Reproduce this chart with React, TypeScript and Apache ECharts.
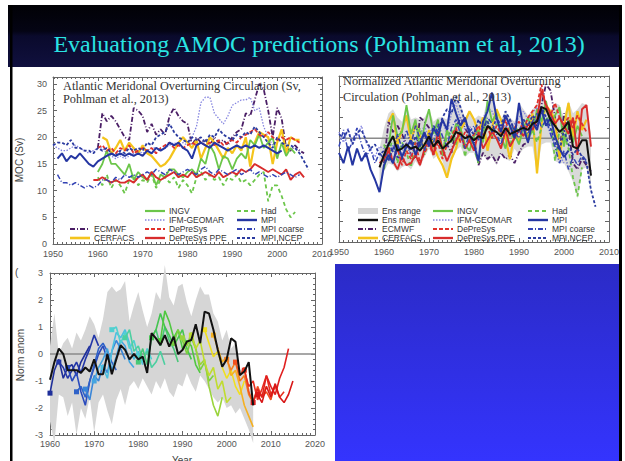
import React, { useEffect, useRef } from "react";
import * as echarts from "echarts";

// ---------- Panel (a): AMOC strength, Sv ----------
const ecmwfSv = [18, 24.5, 23, 24, 23, 21.5, 20, 19.5, 25.5, 25, 24, 21, 22.5, 20.5, 21.5, 20.5, 24, 25.5, 24, 23, 22.5, 18.5, 20, 19, 19.5, 18.5, 20, 19, 19.5, 18.5, 20, 21, 21.5, 24.5, 24, 27, 30, 29, 25, 20, 25.5, 23.5, 18, 17.5, 18.5, 17.5, 17];
const ifmSv = [18.5, 18, 17.5, 17.5, 18, 18.5, 18, 17.5, 17, 17.5, 18, 18, 17, 16.5, 16, 16.5, 16, 16.5, 17, 17.5, 17, 17.5, 18, 18, 17.5, 18, 18.5, 19, 18.5, 19, 18.5, 20, 22, 26.5, 27.5, 27.5, 24.5, 23.5, 22.5, 24, 26, 26.5, 27, 27, 27.5, 25, 25.5, 22, 20, 18.5, 19];
const cerfacsSv = [20, 19.5, 17, 18, 19.5, 17.5, 19, 18, 17, 18.5, 17, 16.5, 15.5, 14.5, 15, 16, 17.5, 19, 20, 19, 18, 19.5, 16, 18, 20, 19, 17.5, 16, 18, 17, 18.5, 17.5, 20, 14.5, 19, 21, 20.5, 20, 15, 19, 21.5, 17, 20, 19.5, 19.5];
const ingvSv = [13.5, 15, 17.5, 15, 15, 14, 13, 15, 12, 13.5, 12.5, 12, 13.5, 11, 13, 12.5, 14, 14, 13, 12.5, 13.5, 14, 13, 16, 15, 18.5, 17, 14, 16.5, 16, 14, 16, 17, 16, 19.5, 18.5, 20.5, 18, 19, 20, 16, 19, 16.5, 18, 17];
const hadSv = [12.5, 11, 13, 10.5, 12, 11, 9.5, 12, 13, 11, 12, 11.5, 13, 10.5, 12, 12.5, 11.5, 12.5, 10.5, 12, 11, 9.5, 12.5, 13.5, 12, 13, 12, 12.5, 11, 12.5, 12, 13, 11.5, 12, 11, 12, 13, 13.5, 8, 11, 11, 9, 6.5, 5, 6];
const depresysSv = [18, 18.5, 17.5, 18, 17, 18, 17.5, 18.5, 17, 17.5, 18, 17.5, 18, 17, 18, 18.5, 19, 18, 18.5, 18, 18.5, 19, 18.5, 19, 18.5, 19, 18.5, 19.5, 18.5, 19, 19.5, 19, 20, 20.5, 21, 21.5, 20.5, 20, 21, 20, 19.5, 20, 19.5, 20, 19.5, 19];
const ppeSv = [12, 12, 12.5, 12, 11.5, 12, 11.5, 11.5, 12, 11.5, 12.5, 13, 12, 13.5, 12.5, 12, 12.5, 13, 13.5, 12.5, 13, 12.5, 13.5, 12.5, 13, 13.5, 13, 12.5, 13.5, 12.5, 13, 13.5, 13, 14, 13.5, 14, 15, 14.5, 14, 13.5, 14, 13.5, 13, 14, 12, 13, 13.5, 12.5];
const mpiSv = [16, 17, 15.5, 16.5, 16, 17, 16, 15, 14.5, 15.5, 16, 16.5, 17, 16.5, 17, 16.5, 17, 16.5, 17, 16.5, 17.5, 17, 18, 17.5, 18, 19, 18.5, 19, 18, 17.5, 16, 18.5, 19, 18.5, 18, 19, 18.5, 18, 17.5, 18, 18.5, 18, 18.5, 18, 18.5, 18, 18.5, 18, 17.5, 17, 17.5];
const mpiCoarseSv = [13, 11.5, 11.5, 11, 11.5, 11, 10.5, 11, 10.5, 11, 12, 12, 11.5, 12.5, 12, 13, 12.5, 13, 12.5, 13, 13.5, 13, 14, 13.5, 13, 14, 13.5, 13, 13.5, 14, 13.5, 13, 14, 14.5, 13.5, 13, 14, 13.5, 13, 13.5, 14, 13, 13.5, 14, 13, 13.5, 13, 12.5, 13, 12.5, 13, 13.5, 13, 12.5, 13];
const ncepSv = [18.5, 19, 19, 18.5, 19.5, 18, 18, 17.5, 17.5, 17, 18, 17.5, 18, 17, 16.5, 17.5, 17, 18, 17.5, 18, 17.5, 19, 18.5, 20, 20.5, 21, 22.5, 21, 20, 19.5, 19, 20, 19.5, 20, 19, 20.5, 20, 21.5, 20.5, 20, 19.5, 20.5, 20, 21, 20.5, 22, 21, 20, 19, 18, 20, 19, 18.5, 18.5, 18, 17, 15.5, 14];

// ---------- Panel (b): normalized AMOC ----------
const ecmwfNorm = [-1.2, 0.8, 0.3, 0.6, 0.2, -0.3, -0.8, -1.0, 1.0, 0.8, 0.5, -0.5, 0.0, -0.7, -0.3, -0.7, 0.5, 1.0, 0.5, 0.1, 0.0, -1.3, -0.7, -1.0, -0.8, -1.2, -0.7, -1.0, -0.8, -1.2, -0.7, -0.3, -0.2, 0.8, 0.6, 1.6, 2.6, 2.3, 1.0, -0.7, 1.2, 0.5, -1.2, -1.5, -1.0, -1.3, -1.6];
const ifmNorm = [0.3, -0.2, 0.5, -0.3, 0.1, 0.6, -0.2, -0.6, -0.9, -0.4, -0.5, -0.8, -0.3, -1.0, -0.7, -0.2, -0.8, -0.4, 0.2, 0.6, 0.0, -0.5, 0.4, 0.8, 0.2, 1.2, 1.7, 0.9, 0.4, 0.6, 0.1, 0.5, 0.9, 1.5, 1.3, 0.8, 0.3, 0.6, 0.2, 0.7, 1.0, 1.3, 0.9, 1.2, 1.5, 0.8, 1.1, 0.2, -0.3, -0.8, -1.2];
const cerfacsNorm = [0.8, 1.2, -0.3, 0.4, 1.1, -0.2, 0.7, 0.1, -0.6, 0.4, -0.4, -0.9, -1.3, -1.9, -1.0, -0.5, 0.4, 0.8, 1.3, 0.9, 0.3, 1.0, -0.6, 0.5, 1.4, 0.9, 0.0, -1.0, 0.3, -0.2, 0.6, 0.0, 1.2, -1.7, 0.7, 1.6, 1.3, 0.9, -1.0, 0.6, 1.7, 0.0, 1.3, 0.4, 0.9];
const ingvNorm = [-1.5, -0.4, 1.1, 0.1, 0.3, 1.6, 0.2, 0.9, -0.5, 0.6, 1.4, 0.2, 0.9, -0.7, 0.4, -0.2, 0.7, 0.5, -0.3, -0.6, 0.1, 0.4, -0.2, 1.8, 0.8, 1.2, 0.1, -0.5, 0.6, 0.2, -0.3, 0.5, 1.0, 0.3, 1.4, 0.8, 1.8, 0.7, 1.1, 1.5, -0.4, 0.9, -0.2, 0.6, 0.1];
const hadNorm = [-0.3, -1.0, 0.2, -1.2, -0.2, -0.7, -1.4, -0.1, 0.5, -0.8, 0.0, -0.4, 0.6, -0.9, 0.1, 0.4, -0.3, 0.5, -0.9, 0.2, -0.5, -1.2, 0.4, 0.9, 0.1, 0.7, 0.2, 0.5, -0.4, 0.6, 0.3, 0.8, -0.1, 0.4, -0.2, 0.5, 0.9, 1.1, -1.1, 0.4, 0.2, -0.5, -1.9, -2.8, -1.4];
const depresysNorm = [-0.9, -0.4, -1.1, -0.5, -1.3, -0.6, -1.0, -0.2, -1.2, -0.7, -0.3, -0.8, -0.2, -1.0, -0.3, 0.1, 0.5, -0.2, 0.3, -0.1, 0.2, 0.6, 0.1, 0.5, 0.0, 0.6, 0.2, 0.9, 0.1, 0.5, 0.8, 0.4, 1.0, 1.3, 1.6, 2.6, 1.5, 1.1, 1.7, 1.0, 0.6, 1.0, 0.5, 1.1, 0.7, 0.3];
const ppeNorm = [-1.2, -1.0, -0.6, -1.1, -1.5, -0.9, -1.3, -1.2, -0.8, -1.3, -0.5, -0.1, -0.8, 0.3, -0.5, -1.1, -0.6, -0.1, 0.3, -0.5, -0.1, -0.6, 0.3, -0.5, -0.1, 0.3, 0.0, -0.5, 0.4, -0.4, 0.0, 0.4, 0.1, 0.7, 0.4, 0.9, 2.3, 1.6, 1.2, 0.7, 1.0, 0.6, 0.2, 1.0, -0.8, 1.4, 1.6, -0.4];
const mpiNorm = [-0.7, -1.2, -0.4, -1.3, -0.5, -1.1, -0.7, -1.5, -2.0, -2.6, -1.3, -0.8, -1.2, -0.3, -0.9, -0.4, -0.1, -0.8, -0.2, 0.3, -0.4, 0.5, 0.1, 0.9, 0.4, 1.9, 1.2, 0.6, 1.0, 0.2, -0.3, -1.1, 0.8, 1.3, 2.2, 1.0, 0.3, 1.1, 0.6, 0.0, 1.7, 0.5, -0.2, 0.8, 0.4, 1.4, 0.6, 1.0, 0.1, -0.5, -0.9, -0.6];
const mpiCoarseNorm = [-0.4, 0.4, -0.6, -0.2, 0.5, -0.3, -0.9, -0.5, -1.2, -0.7, -1.0, -0.2, -0.7, 0.2, -0.5, 0.4, -0.3, 0.6, 0.0, -0.6, 0.3, -0.2, 0.7, 0.1, -0.4, 0.5, 0.9, 0.2, -0.5, 0.3, 0.6, -0.1, 0.4, 1.0, 0.7, 0.2, -0.3, 0.5, 0.9, 0.3, 0.0, 0.6, 0.2, 0.8, 1.2, 0.5, 0.9, 0.2, -0.4, -1.2, -0.6, -1.5, -0.9, -1.3, -0.8, -1.1];
const ncepNorm = [0.2, 0.0, 0.4, -0.3, 0.3, 0.4, -0.1, -0.5, -0.3, -0.8, -0.6, -1.1, -0.4, -0.9, -1.0, -0.3, -0.6, 0.1, -0.4, 0.2, -0.2, 0.6, 0.3, 1.0, 1.4, 1.2, 2.0, 1.5, 0.8, 0.4, 0.2, 0.9, 0.5, 0.8, 0.3, 1.0, 0.6, 1.3, 0.9, 0.4, 0.3, 0.9, 0.6, 1.1, 0.8, 1.5, 1.0, 0.5, -0.2, -0.6, 0.4, -0.3, -0.8, -0.5, -0.9, -1.2, -2.5, -3.3];
const ensMeanNorm = [-1.4, -0.8, -0.3, 0.1, -0.6, -0.5, -0.3, -0.5, -0.4, -0.6, -0.3, 0.1, -0.4, -0.1, -0.5, -0.3, -0.1, 0.3, 0.2, 0.0, 0.1, -0.1, 0.1, 0.0, 0.6, 0.4, 0.3, 0.1, 0.5, 0.2, 0.3, 0.4, 0.5, 0.4, 0.7, 0.8, 1.5, 1.4, 0.9, 0.6, 0.3, 0.5, 0.8, -0.4, -0.5, -0.1, -0.1, -1.8];
const ensHighNorm = [-0.5, 0.5, 1.2, 1.4, 1.0, 0.8, 1.6, 0.9, 1.0, 0.9, 1.0, 1.4, 0.8, 1.0, 1.0, 0.9, 1.3, 2.0, 1.6, 1.0, 1.3, 0.9, 1.1, 1.0, 1.9, 2.2, 1.3, 0.9, 1.3, 1.0, 0.8, 1.7, 1.4, 1.1, 1.4, 1.6, 2.6, 1.7, 1.3, 1.7, 1.6, 1.0, 1.8, 1.2, 1.4, 1.7, 1.6, 0.2];
const ensLowNorm = [-2.6, -1.6, -1.2, -1.3, -1.6, -1.4, -1.3, -1.5, -1.1, -1.4, -0.9, -0.5, -1.0, -0.8, -1.1, -1.9, -1.1, -0.6, -0.4, -0.9, -0.7, -0.7, -1.3, -0.8, -1.1, -0.9, -1.3, -0.7, -1.0, -1.1, -0.5, -0.8, -0.5, -0.4, -0.4, -1.7, -0.3, -0.2, -0.2, -1.1, -1.2, -1.2, -1.6, -2.1, -2.9, -1.5, -1.4, -2.6];

// ---------- Panel (c): hindcasts, normalized anomaly ----------
const obsAnom = [-0.95, -0.3, 0.2, 0.0, -0.6, -0.6, -0.6, -0.7, -0.5, -0.65, -0.2, -0.75, -0.75, 0.0, -0.75, -0.2, 0.33, 0.15, -0.2, 0.0, -0.2, -0.1, -0.7, 0.77, 0.58, 0.33, 0.7, 0.27, 0.64, 0.0, 0.15, 0.46, 0.52, 1.1, 0.4, 1.57, 1.5, 0.9, 0.15, -0.47, -0.2, 0.58, 0.45, -0.78, -0.65, -0.3, -1.9];
const rangeHigh = [0.3, 1.5, 0.0, 0.4, 0.6, 0.2, 0.8, 0.5, 0.9, 1.4, 1.1, 0.6, 1.3, 2.3, 2.5, 2.3, 2.4, 2.7, 1.2, 1.8, 2.3, 1.6, 1.0, 1.5, 2.3, 2.0, 3.3, 2.1, 1.8, 2.5, 2.6, 1.9, 1.4, 2.0, 2.5, 2.2, 2.2, 1.5, 1.2, 0.5, 0.9, 0.2, 0.4, -0.6, -0.5, -1.2, -1.6];
const rangeLow = [-2.5, -3.3, -1.5, -1.6, -2.3, -1.8, -3.0, -2.0, -2.4, -1.6, -2.9, -1.8, -1.5, -2.1, -2.6, -1.7, -1.3, -1.9, -1.2, -1.0, -1.3, -0.9, -1.2, -1.5, -1.0, -1.3, -0.9, -1.4, -1.6, -1.1, -1.2, -0.7, -1.1, -1.4, -0.8, -1.0, -1.3, -1.6, -1.8, -1.6, -2.0, -1.9, -2.2, -2.0, -2.4, -2.8, -3.3];
const hindcastStarts = [1960, 1962, 1964, 1966, 1968, 1970, 1972, 1974, 1977, 1980, 1983, 1985, 1988, 1990, 1992, 1995, 1997, 2000, 2002, 2004, 2006, 2007];
const hindcastValues = [
  [-1.45, -0.6, -0.2, -0.9, -0.5, -0.4, -0.8, -0.3, 0.0, 0.3],
  [-0.3, -0.5, -0.9, -0.6, -0.3, -0.7, -0.2, 0.2, 0.7, 0.3],
  [-0.5, -1.0, -0.7, -1.4, -1.9, -1.0, -0.5, 0.0, 0.3, -0.2],
  [-1.4, -1.2, -1.6, -1.0, -0.4, 0.2, 0.4, 0.1, -0.3, -0.6],
  [-1.3, -1.7, -0.8, -1.0, -0.4, -0.7, 0.1, 0.5, 0.2, -0.2],
  [-1.0, -0.5, -0.2, 0.2, -0.6, -0.1, 0.5, 0.3, -0.3, -0.5],
  [-0.5, -0.9, 0.1, 0.8, 0.6, 0.9, 0.4, -0.2, 0.1, -0.4],
  [0.9, 1.0, 0.4, 0.8, 0.2, 0.5, -0.1, -0.3, 0.2, -0.2],
  [0.6, 0.9, 0.1, 0.3, -0.2, 0.1, -0.5, -0.3, 0.1, -0.4],
  [-0.3, 0.2, -0.4, 0.6, 0.9, 0.3, 1.0, 0.5, 0.2, -0.3],
  [0.6, 0.9, 1.5, 1.0, 0.7, 0.3, 0.6, 0.9, 0.2, -0.2],
  [0.5, 1.6, 1.2, 0.6, 0.9, 0.2, 0.5, 0.3, -0.4, -0.7],
  [0.4, 0.9, 0.5, 0.0, 0.6, 0.2, -0.6, -0.3, -1.0, -0.8],
  [0.6, 0.3, 0.8, 0.2, -0.4, -0.2, -1.2, -1.9, -2.3, -1.6],
  [0.7, 0.2, 0.5, -0.3, -0.8, -0.5, -1.3, -1.0, -1.8, -1.6],
  [0.9, 0.4, -0.1, 0.1, -0.5, -0.9, -0.6, -1.2, -1.5, -1.0],
  [0.7, 0.2, -0.3, -0.1, -0.8, -0.6, -1.2, -1.9, -2.3, -2.7],
  [-0.2, -0.6, -0.3, -1.0, -0.8, -1.5, -1.8, -1.3, -1.6, -1.2],
  [-0.3, -0.8, -0.5, -1.4, -1.8, -1.2, -1.6, -1.4, -1.7, -1.1],
  [-0.6, -1.2, -1.0, -1.7, -1.3, -0.8, -1.5, -1.2, -1.6, -1.4],
  [-1.8, -1.3, -1.6, -0.8, -1.2, -1.5, -0.9, -0.5, 0.2],
  [-1.5, -1.8, -1.2, -1.6, -1.1, -1.6, -1.8, -1.5, -1.0],
];
const hindcastColors = ["#1f2f9a", "#2236a8", "#2a4bbd", "#2f62c8", "#3a86d8", "#45a5e0", "#4cc0e0", "#50d0d0", "#4ccfa0", "#48c878", "#44c450", "#50c840", "#7cd040", "#9ad43c", "#c0dc30", "#f0e020", "#f5b020", "#f58020", "#f05020", "#e83020", "#e02020", "#d81818"];

const xRangeA = [1950, 2010];
const xRangeC = [1960, 2020];

// model name, first year (Sv), values (Sv), first year (normalized), values (normalized)
const models: [string, number, number[], number, number[]][] = [
  ["ECMWF", 1960, ecmwfSv, 1960, ecmwfNorm],
  ["IFM-GEOMAR", 1950, ifmSv, 1950, ifmNorm],
  ["CERFACS", 1961, cerfacsSv, 1961, cerfacsNorm],
  ["INGV", 1960, ingvSv, 1960, ingvNorm],
  ["Had", 1960, hadSv, 1960, hadNorm],
  ["DePreSys", 1960, depresysSv, 1960, depresysNorm],
  ["DePreSys PPE", 1959, ppeSv, 1959, ppeNorm],
  ["MPI coarse", 1951, mpiCoarseSv, 1950, mpiCoarseNorm],
  ["MPI NCEP", 1950, ncepSv, 1950, ncepNorm],
  ["MPI", 1951, mpiSv, 1950, mpiNorm],
];

const styles: Record<string, { color: string; width: number; dash: any }> = {
  ECMWF: { color: "#4b1f66", width: 1.8, dash: [5, 2, 1, 2] },
  "IFM-GEOMAR": { color: "#8585e0", width: 1.3, dash: [1.5, 1.5] },
  CERFACS: { color: "#f4c41c", width: 2.2, dash: "solid" },
  INGV: { color: "#6cc64a", width: 1.8, dash: "solid" },
  DePreSys: { color: "#e2322c", width: 1.8, dash: [4, 2] },
  "DePreSys PPE": { color: "#d82c2c", width: 1.9, dash: "solid" },
  Had: { color: "#6cc64a", width: 1.8, dash: [4, 3] },
  MPI: { color: "#2536a2", width: 2, dash: "solid" },
  "MPI coarse": { color: "#3343b4", width: 1.5, dash: [5, 2, 1, 2] },
  "MPI NCEP": { color: "#2b3ba0", width: 1.8, dash: [3, 2] },
  "Ens range": { color: "#d4d4d4", width: 6, dash: "solid" },
  "Ens mean": { color: "#111111", width: 2, dash: "solid" },
};

const legendCols = [
  ["Ens range", "Ens mean", "ECMWF", "CERFACS"],
  ["INGV", "IFM-GEOMAR", "DePreSys", "DePreSys PPE"],
  ["Had", "MPI", "MPI coarse", "MPI NCEP"],
];

const SANS = '"Liberation Sans", Arial, sans-serif';
const SERIF = '"Liberation Serif", "Times New Roman", serif';
const FRAME = "#666";

const toPairs = (start: number, vals: number[]) => vals.map((v, i) => [start + i, v]);

function axis(gridIndex: number, position: string, min: number, max: number, interval: number, minorSplit: number, label: any) {
  return {
    type: "value",
    gridIndex,
    position,
    min,
    max,
    interval,
    axisLine: { show: true, onZero: false, lineStyle: { color: FRAME, width: 1 } },
    axisTick: { show: true, inside: true, length: 4, lineStyle: { color: FRAME, width: 1 } },
    minorTick: { show: true, splitNumber: minorSplit, length: 2, lineStyle: { color: FRAME, width: 1 } },
    splitLine: { show: false },
    axisLabel: label
      ? { show: true, color: "#555", fontFamily: SANS, fontSize: 9, ...label }
      : { show: false },
  };
}

function line(name: string, start: number, vals: number[], axisIdx: number, z: number) {
  const st = styles[name];
  return {
    type: "line",
    name,
    xAxisIndex: axisIdx,
    yAxisIndex: axisIdx,
    data: toPairs(start, vals),
    showSymbol: false,
    symbol: "none",
    silent: true,
    z,
    lineStyle: { color: st.color, width: st.width, type: st.dash },
    itemStyle: { color: st.color },
  };
}

// filled envelope between a low and a high curve
function band(lo: number[], hi: number[], start: number, axisIdx: number, color: string) {
  return {
    type: "custom",
    coordinateSystem: "cartesian2d",
    xAxisIndex: axisIdx,
    yAxisIndex: axisIdx,
    silent: true,
    z: 1,
    data: [[start, 0]],
    renderItem: (_params: any, api: any) => {
      const top = hi.map((v, i) => api.coord([start + i, v]));
      const bottom = lo.map((v, i) => api.coord([start + i, v])).reverse();
      return {
        type: "polygon",
        shape: { points: top.concat(bottom) },
        style: { fill: color, stroke: null },
      };
    },
  };
}

function legendGraphics(x0: number[], rowY: number[], skipEnsemble: boolean) {
  const out: any[] = [];
  legendCols.forEach((col, ci) => {
    col.forEach((name, ri) => {
      if (skipEnsemble && ci === 0 && ri < 2) return;
      const st = styles[name];
      const y = rowY[ri];
      const x = x0[ci];
      out.push({
        type: "line",
        z: 100,
        shape: { x1: x, y1: y, x2: x + 20, y2: y },
        style: {
          stroke: st.color,
          lineWidth: name === "Ens range" ? 6 : st.width + 0.4,
          lineDash: st.dash === "solid" ? null : st.dash,
        },
      });
      out.push({
        type: "text",
        z: 100,
        x: x + 24,
        y,
        style: {
          text: name,
          fill: "#333",
          font: `8.5px ${SANS}`,
          verticalAlign: "middle",
          textVerticalAlign: "middle",
        },
      });
    });
  });
  return out;
}

export default function App() {
  const ref = useRef<HTMLDivElement>(null);

  useEffect(() => {
    if (!ref.current) return;
    const chart = echarts.init(ref.current, undefined, { renderer: "svg" });

    const fmtA = (v: number) => (v % 5 === 0 ? String(v) : "");
    const fmtInt = (v: number) => (Number.isInteger(v) ? String(v) : "");
    const fmtYear = (v: number) => (v % 10 === 0 ? String(v) : "");

    const series: any[] = [];
    // Panel (a)
    models.forEach(([name, s0, sv], i) => series.push(line(name, s0, sv, 0, 2 + i)));
    // Panel (b)
    series.push(band(ensLowNorm, ensHighNorm, 1959, 2, "#d9d9d9"));
    series.push({
      type: "line",
      xAxisIndex: 2,
      yAxisIndex: 2,
      data: [[xRangeA[0], 0], [xRangeA[1], 0]],
      showSymbol: false,
      symbol: "none",
      silent: true,
      z: 1.5,
      lineStyle: { color: "#8a8a8a", width: 1.4 },
    });
    models.forEach(([name, , , n0, nv], i) => series.push(line(name, n0, nv, 2, 2 + i)));
    series.push(line("Ens mean", 1959, ensMeanNorm, 2, 20));
    // Panel (c)
    series.push(band(rangeLow, rangeHigh, 1960, 4, "#d6d6d6"));
    series.push({
      type: "line",
      xAxisIndex: 4,
      yAxisIndex: 4,
      data: [[xRangeC[0], 0], [xRangeC[1], 0]],
      showSymbol: false,
      symbol: "none",
      silent: true,
      z: 1.5,
      lineStyle: { color: "#8a8a8a", width: 1.6 },
    });
    hindcastStarts.forEach((s0, i) => {
      const pts: any[] = toPairs(s0, hindcastValues[i]);
      pts[0] = { value: pts[0], symbol: "rect", symbolSize: 5 };
      series.push({
        type: "line",
        xAxisIndex: 4,
        yAxisIndex: 4,
        data: pts,
        showSymbol: true,
        symbol: "none",
        silent: true,
        z: 3 + i * 0.01,
        lineStyle: { color: hindcastColors[i], width: 1.6 },
        itemStyle: { color: hindcastColors[i] },
      });
    });
    series.push({
      type: "line",
      xAxisIndex: 4,
      yAxisIndex: 4,
      data: toPairs(1960, obsAnom),
      showSymbol: false,
      symbol: "none",
      silent: true,
      z: 10,
      lineStyle: { color: "#111", width: 2 },
    });

    const title = (x: number, y: number, text: string) => ({
      type: "text",
      z: 100,
      x,
      y,
      style: { text, fill: "#333", font: `12.3px ${SERIF}`, verticalAlign: "middle", textVerticalAlign: "middle" },
    });

    const option: any = {
      animation: false,
      backgroundColor: "#ffffff",
      grid: [
        { left: 53, top: 77, width: 269, height: 167, outerBoundsMode: "none" },
        { left: 339, top: 76, width: 270, height: 166, outerBoundsMode: "none" },
        { left: 50, top: 273, width: 265, height: 162, outerBoundsMode: "none" },
      ],
      xAxis: [
        axis(0, "bottom", xRangeA[0], xRangeA[1], 10, 10, { margin: 5, formatter: fmtYear }),
        axis(0, "top", xRangeA[0], xRangeA[1], 10, 10, null),
        axis(1, "bottom", xRangeA[0], xRangeA[1], 10, 10, { margin: 5, formatter: fmtYear }),
        axis(1, "top", xRangeA[0], xRangeA[1], 10, 10, null),
        axis(2, "bottom", xRangeC[0], xRangeC[1], 10, 10, { margin: 4, formatter: fmtYear }),
        axis(2, "top", xRangeC[0], xRangeC[1], 10, 10, null),
      ],
      yAxis: [
        axis(0, "left", 0, 31.3, 5, 5, { margin: 6, formatter: fmtA }),
        axis(0, "right", 0, 31.3, 5, 5, null),
        axis(1, "left", -5, 3, 1, 2, null),
        axis(1, "right", -5, 3, 1, 2, null),
        axis(2, "left", -3, 3, 1, 5, { margin: 7, formatter: fmtInt }),
        axis(2, "right", -3, 3, 1, 5, null),
      ],
      series,
      graphic: [
        // slide header band
        {
          type: "rect",
          z: 0,
          shape: { x: 8, y: 5, width: 614, height: 62 },
          style: {
            fill: new echarts.graphic.LinearGradient(0, 0, 0, 1, [
              { offset: 0, color: "#010105" },
              { offset: 0.42, color: "#040414" },
              { offset: 0.5, color: "#0a0a2c" },
              { offset: 1, color: "#10103e" },
            ]),
          },
        },
        {
          type: "text",
          z: 1,
          x: 319,
          y: 44,
          style: {
            text: "Evaluationg AMOC predictions (Pohlmann et al, 2013)",
            fill: "#2ae4e4",
            font: `24px ${SERIF}`,
            align: "center",
            verticalAlign: "middle",
            textAlign: "center",
            textVerticalAlign: "middle",
          },
        },
        // slide side rules
        { type: "rect", z: 0, shape: { x: 10, y: 5, width: 2.5, height: 456 }, style: { fill: "#000" } },
        { type: "rect", z: 0, shape: { x: 619, y: 5, width: 3, height: 456 }, style: { fill: "#000" } },
        // empty blue panel
        {
          type: "rect",
          z: 0,
          shape: { x: 335, y: 264, width: 284, height: 197 },
          style: {
            fill: new echarts.graphic.LinearGradient(0, 0, 0, 1, [
              { offset: 0, color: "#2b2bc6" },
              { offset: 1, color: "#3434fe" },
            ]),
          },
        },
        // panel titles
        title(63, 86, "Atlantic Meridonal Overturning Circulation (Sv,"),
        title(63, 99, "Pohlman et al., 2013)"),
        title(343, 81, "Normalized Atlantic Meridonal Overturning"),
        title(343, 97, "Circulation (Pohlman et al., 2013)"),
        // axis titles
        {
          type: "text", z: 100, x: 19, y: 160, rotation: Math.PI / 2,
          style: { text: "MOC (Sv)", fill: "#444", font: `10px ${SANS}`, align: "center", verticalAlign: "middle", textAlign: "center", textVerticalAlign: "middle" },
        },
        {
          type: "text", z: 100, x: 20, y: 355, rotation: Math.PI / 2,
          style: { text: "Norm anom", fill: "#444", font: `10px ${SANS}`, align: "center", verticalAlign: "middle", textAlign: "center", textVerticalAlign: "middle" },
        },
        {
          type: "text", z: 100, x: 182, y: 455,
          style: { text: "Year", fill: "#444", font: `10px ${SANS}`, align: "center", textAlign: "center" },
        },
        {
          type: "text", z: 100, x: 15, y: 272,
          style: { text: "(", fill: "#444", font: `10px ${SANS}`, verticalAlign: "middle", textVerticalAlign: "middle" },
        },
        ...legendGraphics([70, 145, 237], [211, 220, 229, 238], true),
        ...legendGraphics([358, 433, 528], [211, 220, 229, 238], false),
      ],
    };

    chart.setOption(option);
    return () => chart.dispose();
  }, []);

  return (
    <div
      ref={ref}
      style={{ position: "absolute", left: 0, top: 0, width: 625, height: 461 }}
    />
  );
}
